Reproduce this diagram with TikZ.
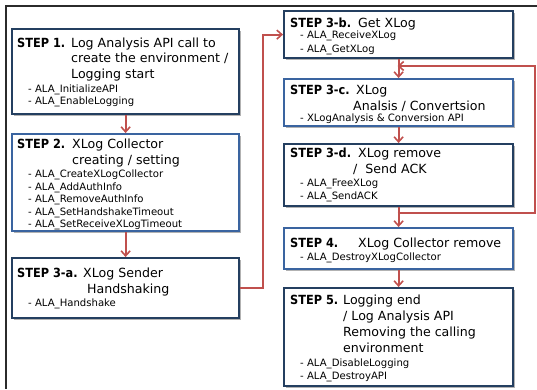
\documentclass[tikz,border=0pt]{standalone}
\usepackage{fontspec}
\setmainfont{DejaVu Sans}
\newfontfamily\labelfont{DejaVu Sans Condensed}
\usetikzlibrary{arrows.meta,shadows}

\definecolor{navy}{HTML}{243F60}
\definecolor{stepblue}{HTML}{3A64A0}
\definecolor{flowred}{HTML}{C0504D}
\definecolor{framegray}{HTML}{2B2B2B}

\newcommand{\mainsize}{\fontsize{12.6}{15}\selectfont}
\newcommand{\itemsize}{\fontsize{10.1}{11}\selectfont}

\tikzset{
  x=1pt, y=-1pt,
  box/.style={rectangle, draw=navy, line width=2.2pt, fill=white, inner sep=0pt,
    anchor=north west,
    drop shadow={shadow xshift=2pt, shadow yshift=-2pt, fill=black, opacity=0.3}},
  lightbox/.style={box, draw=stepblue},
  steplabel/.style={anchor=base west, inner sep=0pt, font=\mainsize\labelfont\bfseries},
  headline/.style={anchor=base west, inner sep=0pt, font=\mainsize},
  itemline/.style={anchor=base west, inner sep=0pt, font=\itemsize},
  flow/.style={draw=flowred, line width=1.8pt},
  flowarrow/.style={flow, -{Straight Barb[length=5pt,width=9pt,line width=1.6pt]}},
}

\begin{document}
\begin{tikzpicture}
\useasboundingbox (0,0) rectangle (537,389);

% outer frame (top and left edges)
\coordinate (frameTR) at (537,6);
\coordinate (frameBL) at (6,389);
\draw[framegray, line width=1.3pt] (frameTR) -| (frameBL);

% ---------- boxes ----------
\node[box,      minimum width=227, minimum height=85] (s1)  at (11,28)  {};
\node[lightbox, minimum width=227, minimum height=97] (s2)  at (11,133) {};
\node[box,      minimum width=227, minimum height=60] (s3a) at (11,257) {};
\node[box,      minimum width=229, minimum height=47] (s3b) at (283,10) {};
\node[lightbox, minimum width=229, minimum height=47] (s3c) at (283,78) {};
\node[box,      minimum width=229, minimum height=62] (s3d) at (283,143) {};
\node[lightbox, minimum width=229, minimum height=41] (s4)  at (283,227) {};
\node[box,      minimum width=229, minimum height=98] (s5)  at (283,287) {};

% ---------- STEP 1 ----------
\node[steplabel] (h1) at (17,47.5) {STEP 1.};
\node[headline] (l1a) at (71,47.5) {Log Analysis API call to};
\node[headline] (l1b) at (71,62.5) {create the environment /};
\node[headline] (l1c) at (71,78) {Logging start};
\node[itemline] (i1a) at (28,92.5) {- ALA\_InitializeAPI};
\node[itemline] (i1b) at (28,104) {- ALA\_EnableLogging};

% ---------- STEP 2 ----------
\node[steplabel] (h2) at (17,148.5) {STEP 2.};
\node[headline] (l2a) at (72,148.5) {XLog Collector};
\node[headline] (l2b) at (72,164.5) {creating / setting};
\node[itemline] (i2a) at (28,177.5) {- ALA\_CreateXLogCollector};
\node[itemline] (i2b) at (28,190) {- ALA\_AddAuthInfo};
\node[itemline] (i2c) at (28,202.5) {- ALA\_RemoveAuthInfo};
\node[itemline] (i2d) at (28,215) {- ALA\_SetHandshakeTimeout};
\node[itemline] (i2e) at (28,227.5) {- ALA\_SetReceiveXLogTimeout};

% ---------- STEP 3-a ----------
\node[steplabel] (h3a) at (17,277.5) {STEP 3-a.};
\node[headline] (l3aa) at (83,277.5) {XLog Sender};
\node[headline] (l3ab) at (87,293.5) {Handshaking};
\node[itemline] (i3aa) at (28,306.5) {- ALA\_Handshake};

% ---------- STEP 3-b ----------
\node[steplabel] (h3b) at (290,27.5) {STEP 3-b.};
\node[headline] (l3ba) at (358,27.5) {Get XLog};
\node[itemline] (i3ba) at (300,38.5) {- ALA\_ReceiveXLog};
\node[itemline] (i3bb) at (300,52) {- ALA\_GetXLog};

% ---------- STEP 3-c ----------
\node[steplabel] (h3c) at (290,94.5) {STEP 3-c.};
\node[headline] (l3ca) at (356,94.5) {XLog};
\node[headline] (l3cb) at (353,110.5) {Analsis / Convertsion};
\node[itemline] (i3ca) at (300,121.5) {- XLogAnalysis \& Conversion API};

% ---------- STEP 3-d ----------
\node[steplabel] (h3d) at (290,157.5) {STEP 3-d.};
\node[headline] (l3da) at (358,157.5) {XLog remove};
\node[headline] (l3db) at (353,173.5) {/\ \ Send ACK};
\node[itemline] (i3da) at (300,186.5) {- ALA\_FreeXLog};
\node[itemline] (i3db) at (300,199.5) {- ALA\_SendACK};

% ---------- STEP 4 ----------
\node[steplabel] (h4) at (290,247.5) {STEP 4.};
\node[headline] (l4a) at (358,247.5) {XLog Collector remove};
\node[itemline] (i4a) at (300,260.5) {- ALA\_DestroyXLogCollector};

% ---------- STEP 5 ----------
\node[steplabel] (h5) at (290,304.5) {STEP 5.};
\node[headline] (l5a) at (343,304.5) {Logging end};
\node[headline] (l5b) at (343,320.5) {/ Log Analysis API};
\node[headline] (l5c) at (343,336.5) {Removing the calling};
\node[headline] (l5d) at (343,352.5) {environment};
\node[itemline] (i5a) at (300,366.5) {- ALA\_DisableLogging};
\node[itemline] (i5b) at (300,379.5) {- ALA\_DestroyAPI};

% ---------- connectors ----------
\coordinate (busx) at (263,0);
\coordinate (loopx) at (535,0);
\coordinate (loopout) at (397.5,213);
\coordinate (loopin) at (397.5,66);

\draw[flowarrow] (s1.south) -- (s2.north);
\draw[flowarrow] (s2.south) -- (s3a.north);
\draw[flowarrow] (s3a.east) -- (s3a.east -| busx) |- (s3b.west);
\draw[flowarrow] (s3b.south) -- (s3c.north);
\draw[flowarrow] (s3c.south) -- (s3d.north);
\draw[flowarrow] (s3d.south) -- (s4.north);
\draw[flowarrow] (s4.south) -- (s5.north);
\draw[flowarrow] (loopout) -- (loopout -| loopx) |- (loopin);
\end{tikzpicture}
\end{document}
